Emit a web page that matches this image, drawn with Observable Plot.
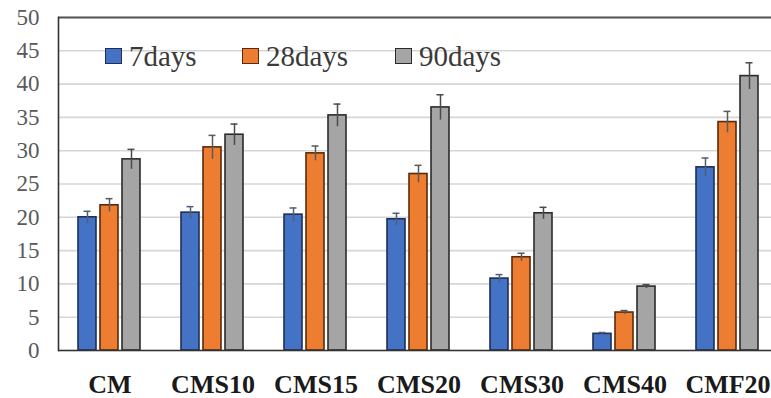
<!DOCTYPE html>
<html>
<head>
<meta charset="utf-8">
<script src="https://cdn.jsdelivr.net/npm/d3@7"></script>
<script src="https://cdn.jsdelivr.net/npm/@observablehq/plot@0.6"></script>
<style>
  html, body { margin: 0; padding: 0; background: #fff; }
  #wrap { position: relative; width: 771px; height: 398px; overflow: hidden; }
  .leg { position: absolute; display: flex; align-items: center; font-family: "Times New Roman", "Liberation Serif", "DejaVu Serif", serif; font-size: 29px; color: #3a3a3a; top: 40px; height: 32px; white-space: nowrap; }
  .leg .sw { width: 15px; height: 14px; border: 1.5px solid #333; margin-right: 7px; }
  #wrap svg text { font-family: "Times New Roman", "Liberation Serif", "DejaVu Serif", serif; }
</style>
</head>
<body>
<div id="wrap"></div>
<script>
const categories = ["CM", "CMS10", "CMS15", "CMS20", "CMS30", "CMS40", "CMF20"];
const series = ["7days", "28days", "90days"];
const v7  = [20.0, 20.7, 20.4, 19.7, 10.8, 2.5, 27.5];
const v28 = [21.8, 30.5, 29.6, 26.5, 14.0, 5.7, 34.3];
const v90 = [28.7, 32.4, 35.3, 36.5, 20.6, 9.6, 41.2];
const e7  = [0.9, 0.9, 1.0, 0.9, 0.6, 0.2, 1.4];
const e28 = [1.0, 1.8, 1.1, 1.3, 0.6, 0.3, 1.6];
const e90 = [1.5, 1.6, 1.7, 1.9, 0.9, 0.3, 2.0];
const yTicks = [0, 5, 10, 15, 20, 25, 30, 35, 40, 45, 50];

const fills = ["#4472C4", "#ED7D31", "#A5A5A5"];
const strokes = ["#1f2f55", "#5a2a0a", "#2b2b2b"];
const errColors = ["#4f5f78", "#5a5a5a", "#4a4a4a"];

const values = [v7, v28, v90];
const errs = [e7, e28, e90];
const data = categories.flatMap((c, i) => series.map((s, j) => ({
  category: c, series: s, value: values[j][i], err: errs[j][i], k: j
})));

const seriesMarks = series.flatMap((s, j) => {
  const d = data.filter(r => r.series === s);
  return [
    Plot.barY(d, {fx: "category", x: "series", y: "value", fill: fills[j], stroke: strokes[j], strokeWidth: 1.6}),
    Plot.ruleX(d, {fx: "category", x: "series", y1: r => r.value - r.err, y2: r => r.value + r.err, stroke: errColors[j], strokeWidth: 1.5}),
    Plot.tickY(d, {fx: "category", x: "series", y: r => r.value + r.err, stroke: errColors[j], strokeWidth: 1.5, insetLeft: 5.5, insetRight: 5.5})
  ];
});

const serifStack = "'Times New Roman', 'Liberation Serif', 'DejaVu Serif', serif";

const chart = Plot.plot({
  width: 771,
  height: 398,
  marginLeft: 56,
  marginRight: -9,
  marginTop: 17,
  marginBottom: 48,
  style: {fontFamily: serifStack, background: "white", overflow: "hidden"},
  fx: {domain: categories, padding: 0, label: null},
  x: {domain: series, paddingInner: 0.17, paddingOuter: 0.83, axis: null},
  y: {domain: [0, 50], label: null},
  marks: [
    Plot.gridY(yTicks, {stroke: "#d6d6d6", strokeOpacity: 1, strokeWidth: 1.6}),
    Plot.axisY(yTicks, {tickSize: 0, tickPadding: 19, fontSize: 23, fill: "#5a5a5a", label: null}),
    Plot.axisFx({anchor: "bottom", tickSize: 0, tickPadding: 24, fontSize: 26, fontWeight: "bold", fill: "#1a1a1a", label: null}),
    Plot.ruleY([50], {stroke: "#555", strokeWidth: 2.2}),
    ...seriesMarks,
    Plot.ruleY([0], {stroke: "#333", strokeWidth: 1.6}),
    Plot.frame({anchor: "left", facetAnchor: "left", stroke: "#333", strokeWidth: 1.6})
  ]
});

const wrap = document.getElementById("wrap");
wrap.appendChild(chart);

const legPos = [105, 242, 395];
series.forEach((s, j) => {
  const item = document.createElement("div");
  item.className = "leg";
  item.style.left = legPos[j] + "px";
  const sw = document.createElement("span");
  sw.className = "sw";
  sw.style.background = fills[j];
  sw.style.borderColor = strokes[j];
  const tx = document.createElement("span");
  tx.textContent = s;
  item.appendChild(sw);
  item.appendChild(tx);
  wrap.appendChild(item);
});
</script>
</body>
</html>
